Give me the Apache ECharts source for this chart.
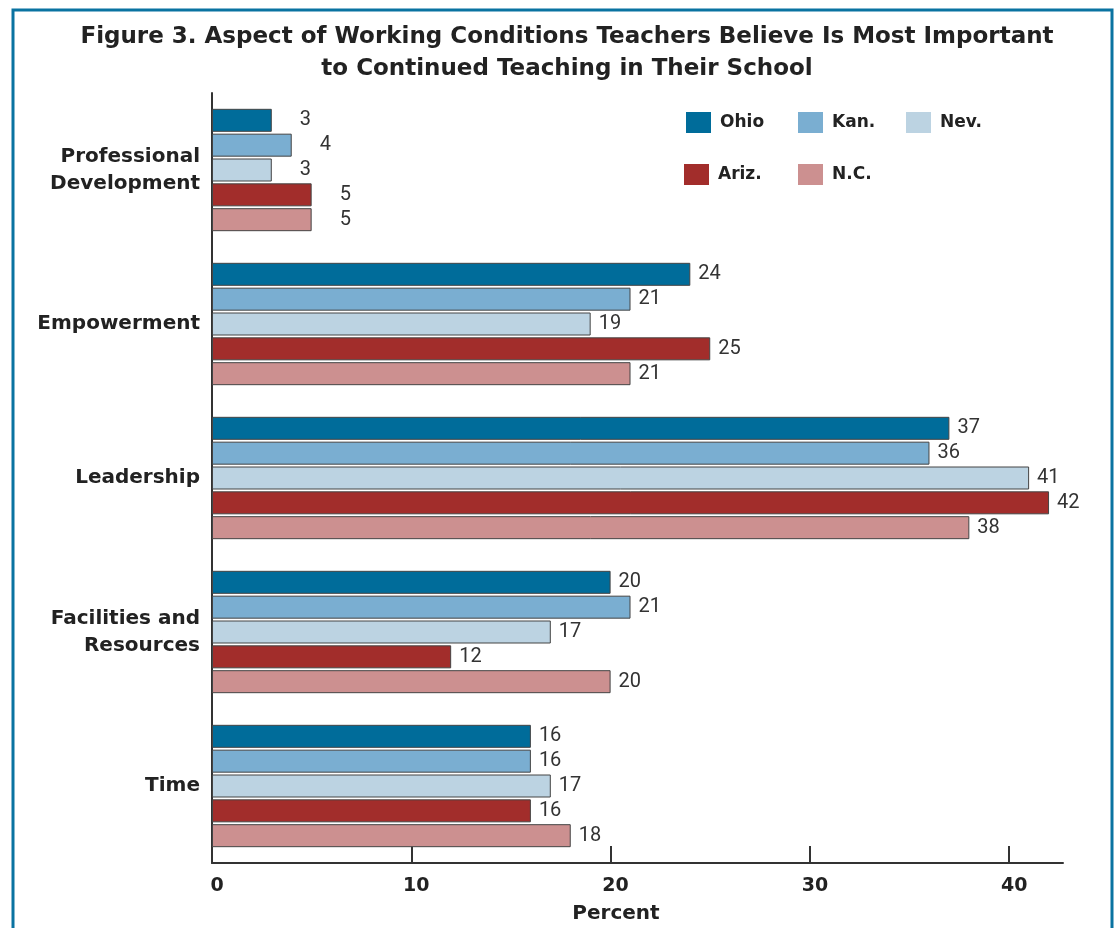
<!DOCTYPE html>
<html>
<head>
<meta charset="utf-8">
<title>Figure 3</title>
<script src="https://cdn.jsdelivr.net/npm/echarts@6/dist/echarts.min.js"></script>
<style>
  html, body { margin: 0; padding: 0; background: #fff; }
  #chart { width: 1116px; height: 928px; }
</style>
</head>
<body>
<div id="chart"></div>
<script>
// values (percent)
const categories = ['Professional\nDevelopment', 'Empowerment', 'Leadership', 'Facilities and\nResources', 'Time'];
const states = ['Ohio', 'Kan.', 'Nev.', 'Ariz.', 'N.C.'];
const ohio = [3, 24, 37, 20, 16];
const kan = [4, 21, 36, 21, 16];
const nev = [3, 19, 41, 17, 17];
const ariz = [5, 25, 42, 12, 16];
const nc = [5, 21, 38, 20, 18];
const xTicks = [0, 10, 20, 30, 40];

const colors = ['#006c9a', '#7aaed1', '#bcd3e2', '#a22d2b', '#cc9090'];
const legendPos = [[686, 112], [798, 112], [906, 112], [684, 164], [798, 164]];
const boldFont = 'DejaVu Sans';

const chart = echarts.init(document.getElementById('chart'));

function makeSeries(name, values, color) {
    return {
        name: name,
        type: 'bar',
        barWidth: 23,
        barGap: '8%',
        itemStyle: { color: color, borderColor: '#444', borderWidth: 1 },
        label: {
            show: true,
            position: 'right',
            distance: 8,
            color: '#333',
            fontFamily: 'Roboto',
            fontSize: 20
        },
        // the first group's labels sit further out in the original
        data: values.map(function (v, i) {
            return i === 0 ? { value: v, label: { distance: 28 } } : v;
        })
    };
}

const allValues = [ohio, kan, nev, ariz, nc];

const option = {
    backgroundColor: '#fff',
    animation: false,
    title: {
        text: 'Figure 3. Aspect of Working Conditions Teachers Believe Is Most Important\nto Continued Teaching in Their School',
        left: 562,
        top: 16,
        textAlign: 'center',
        textStyle: {
            fontFamily: boldFont,
            fontWeight: 'bold',
            fontSize: 23,
            lineHeight: 32,
            color: '#222'
        }
    },
    graphic: [{
        type: 'rect',
        shape: { x: 13, y: 10, width: 1099, height: 940 },
        style: { fill: 'none', stroke: '#0a73a1', lineWidth: 3 },
        silent: true
    }],
    legend: states.map(function (s, i) {
        return {
            data: [s],
            left: legendPos[i][0],
            top: legendPos[i][1],
            padding: 0,
            icon: 'rect',
            itemWidth: 25,
            itemHeight: 21,
            itemStyle: { borderWidth: 0 },
            textStyle: {
                fontFamily: boldFont,
                fontWeight: 'bold',
                fontSize: 17,
                color: '#222',
                padding: [2, 0, 0, 4]
            }
        };
    }),
    grid: { left: 212, right: 53, top: 93, bottom: 65, outerBoundsMode: 'none' },
    xAxis: {
        type: 'value',
        min: 0,
        max: 42.7,
        interval: 10,
        name: 'Percent',
        nameLocation: 'middle',
        nameGap: 41,
        nameTextStyle: {
            fontFamily: boldFont,
            fontWeight: 'bold',
            fontSize: 20,
            color: '#222',
            padding: [0, 43, 0, 0]
        },
        splitLine: { show: false },
        axisLine: { show: true, lineStyle: { color: '#333', width: 2 } },
        axisTick: {
            show: true,
            inside: true,
            length: 17,
            customValues: xTicks,
            lineStyle: { color: '#333', width: 2 }
        },
        axisLabel: {
            customValues: xTicks,
            margin: 14,
            padding: [0, 0, 0, 10],
            fontFamily: boldFont,
            fontWeight: 'bold',
            fontSize: 19,
            color: '#222'
        }
    },
    yAxis: {
        type: 'category',
        inverse: true,
        data: categories,
        axisLine: { show: true, lineStyle: { color: '#333', width: 2 } },
        axisTick: { show: false },
        axisLabel: {
            margin: 12,
            fontFamily: boldFont,
            fontWeight: 'bold',
            fontSize: 20,
            lineHeight: 27,
            color: '#222'
        }
    },
    series: states.map(function (s, i) {
        return makeSeries(s, allValues[i], colors[i]);
    })
};

chart.setOption(option);
</script>
</body>
</html>
